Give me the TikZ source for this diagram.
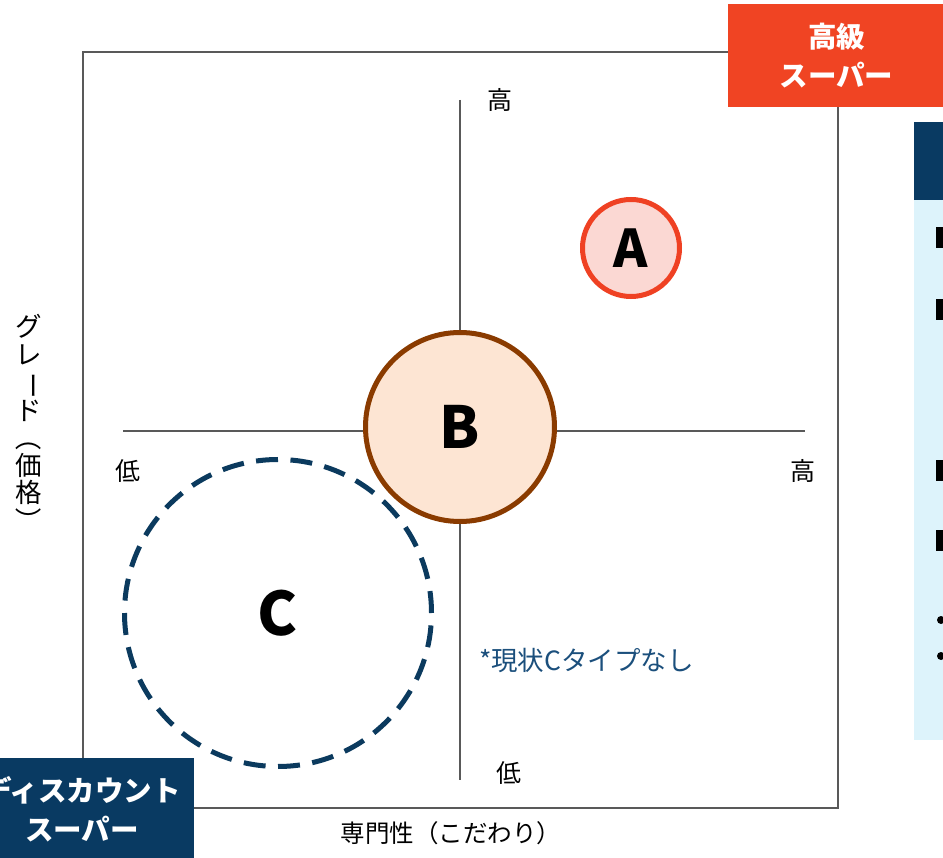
\documentclass[tikz,border=0pt]{standalone}
\usepackage{fontspec}
\setmainfont{Noto Sans CJK JP}
\usepackage{graphicx}

\definecolor{tagred}{HTML}{F04423}
\definecolor{tagnavy}{HTML}{093A62}
\definecolor{panelblue}{HTML}{DDF3FB}
\definecolor{axisgray}{HTML}{595959}
\definecolor{aline}{HTML}{EF4123}
\definecolor{afill}{HTML}{FBD8D3}
\definecolor{bline}{HTML}{8A3B00}
\definecolor{bfill}{HTML}{FDE5D3}
\definecolor{cline}{HTML}{0B3A5E}
\definecolor{noteblue}{HTML}{1B4F7C}

\begin{document}
\begin{tikzpicture}[x=1pt, y=-1pt, line width=2pt,
    axisline/.style={draw=axisgray, line width=2pt},
    ticklabel/.style={font=\fontsize{25}{27}\selectfont, inner sep=0pt},
    tagbox/.style={text=white, font=\bfseries\fontsize{28.5}{39}\selectfont, align=center, inner sep=0pt},
    bubble/.style={circle, line width=5pt, inner sep=0pt, font=\bfseries}]
    \useasboundingbox (0, 0) rectangle (943, 858);
    \clip (0, 0) rectangle (943, 858);

    % frame
    \draw [axisline] (83, 52) rectangle (838, 808);

    % axes
    \coordinate (ytop) at (460, 100);
    \coordinate (ybot) at (460, 780);
    \coordinate (xleft) at (123, 431);
    \coordinate (xright) at (805, 431);
    \draw [axisline] (ytop) -- (ybot);
    \draw [axisline] (xleft) -- (xright);

    \node [ticklabel] (yhigh) at (500, 100) {高};
    \node [ticklabel] (ylow) at (509, 773) {低};
    \node [ticklabel] (xlow) at (128, 471) {低};
    \node [ticklabel] (xhigh) at (803, 471) {高};

    % bubbles
    \node [bubble, draw=cline, dash pattern=on 22pt off 12.45pt, minimum size=307pt,
        font=\bfseries\fontsize{60}{60}\selectfont] (typec) at (278, 613) {C};
    \node [bubble, draw=bline, fill=bfill, minimum size=189pt,
        font=\bfseries\fontsize{58}{58}\selectfont] (typeb) at (460, 427) {B};
    \node [bubble, draw=aline, fill=afill, minimum size=97pt,
        font=\bfseries\fontsize{52}{52}\selectfont] (typea) at (631, 248) {A};

    \node [ticklabel, anchor=west, text=noteblue, font=\fontsize{26.5}{28}\selectfont] (note) at (478, 660) {*現状Cタイプなし};

    % axis titles
    \node [ticklabel, font=\fontsize{24.5}{27}\selectfont] (xtitle) at (451, 833) {専門性（こだわり）};
    \node [ticklabel, align=center, font=\fontsize{26.5}{27.5}\selectfont] (ytitle) at (29, 424) {グ\\レ\\\rotatebox[origin=c]{-90}{ー}\\ド\\\rotatebox[origin=c]{-90}{（}\\価\\格\\\rotatebox[origin=c]{-90}{）}};

    % corner tags
    \node [tagbox, fill=tagred, minimum width=217pt, minimum height=103pt] (hightag) at (836.5, 55.5) {高級\\スーパー};
    \node [tagbox, fill=tagnavy, minimum width=224pt, minimum height=102pt] (disctag) at (82, 809) {ディスカウント\\スーパー};

    % side panel
    \fill [tagnavy] (914, 122) rectangle (950, 200);
    \fill [panelblue] (914, 200) rectangle (950, 740);
    \foreach \y in {238, 310, 471, 540}
        \fill (936, \y - 10.5) rectangle (956, \y + 10.5);
    \foreach \y in {620, 656}
        \fill (941, \y) circle (4);
\end{tikzpicture}
\end{document}
